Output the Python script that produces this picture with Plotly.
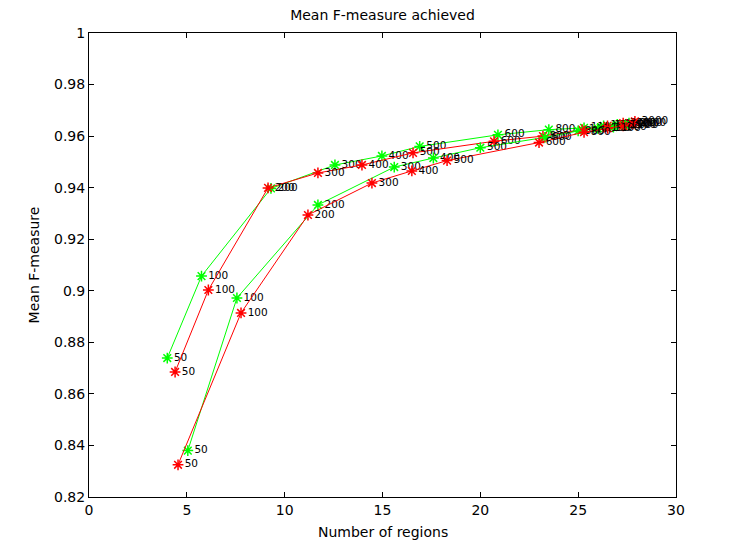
import plotly.graph_objects as go

# Upper green series
g1_x = [4.0, 5.75, 9.3, 12.57, 14.97, 16.9, 20.9, 23.5, 25.3, 26.3, 27.0, 27.6]
g1_y = [0.8739, 0.9057, 0.9397, 0.9488, 0.9523, 0.9560, 0.9605, 0.9625, 0.9632, 0.9640, 0.9645, 0.9650]
g1_lbl = ["50", "100", "200", "300", "400", "500", "600", "800", "1100", "1500", "2000", "3000"]

# Upper red series
r1_x = [4.4, 6.1, 9.15, 11.7, 13.95, 16.56, 20.7, 23.2, 25.2, 26.5, 27.3, 27.9]
r1_y = [0.8685, 0.9003, 0.9399, 0.9457, 0.9488, 0.9535, 0.9580, 0.9600, 0.9625, 0.9640, 0.9650, 0.9657]
r1_lbl = ["50", "100", "200", "300", "400", "500", "600", "800", "1100", "1500", "2000", "3000"]

# Lower green series
g2_x = [5.05, 7.56, 11.7, 15.6, 17.6, 20.0, 23.3, 25.0, 26.0, 26.8, 27.4]
g2_y = [0.8380, 0.8972, 0.9333, 0.9480, 0.9515, 0.9555, 0.9595, 0.9620, 0.9630, 0.9635, 0.9642]
g2_lbl = ["50", "100", "200", "300", "400", "500", "600", "800", "1100", "1500", "2000"]

# Lower red series
r2_x = [4.55, 7.77, 11.19, 14.46, 16.5, 18.3, 23.0, 25.3, 26.5, 27.3, 27.8]
r2_y = [0.8325, 0.8914, 0.9294, 0.9418, 0.9465, 0.9505, 0.9575, 0.9615, 0.9630, 0.9640, 0.9648]
r2_lbl = ["50", "100", "200", "300", "400", "500", "600", "800", "1100", "1500", "2000"]

GREEN = "#00ff00"
RED = "#ff0000"
FONT = "DejaVu Sans"

fig = go.Figure()
for xs, ys, lbl, col in [(g1_x, g1_y, g1_lbl, GREEN), (r1_x, r1_y, r1_lbl, RED),
                         (g2_x, g2_y, g2_lbl, GREEN), (r2_x, r2_y, r2_lbl, RED)]:
    fig.add_trace(go.Scatter(
        x=xs, y=ys, mode="lines+markers+text", text=lbl,
        textposition="middle right",
        textfont=dict(family=FONT, size=10.5, color="black"),
        line=dict(color=col, width=1),
        marker=dict(symbol="asterisk-open", size=9, color=col, line=dict(color=col, width=1.5)),
        cliponaxis=False, showlegend=False,
    ))

axis_common = dict(
    showline=True, linecolor="black", linewidth=1, mirror="ticks",
    ticks="inside", ticklen=5, tickcolor="black", showgrid=False, zeroline=False,
    tickfont=dict(family=FONT, size=14, color="black"),
)

# page body has an 8px margin, so the figure is offset by 8px
fig.update_layout(
    width=741, height=535,
    margin=dict(l=81, r=73, t=25, b=46, autoexpand=False),
    paper_bgcolor="white", plot_bgcolor="white",
    title=dict(text="Mean F-measure achieved", x=(81 + 668) / 2 / 741, xanchor="center",
               y=1 - 7 / 535, yanchor="middle",
               font=dict(family=FONT, size=14, color="black")),
    xaxis=dict(range=[0, 30], tickvals=[0, 5, 10, 15, 20, 25, 30], automargin=False,
               **axis_common),
    yaxis=dict(range=[0.82, 1.0], tickvals=[0.82, 0.84, 0.86, 0.88, 0.9, 0.92, 0.94, 0.96, 0.98, 1.0],
               ticktext=["0.82", "0.84", "0.86", "0.88", "0.9", "0.92", "0.94", "0.96", "0.98", "1"],
               automargin=False,
               title=dict(text="Mean F-measure", standoff=11,
                          font=dict(family=FONT, size=14, color="black")),
               **axis_common),
    annotations=[dict(text="Number of regions", xref="paper", yref="paper", x=0.5, y=0,
                      xanchor="center", yanchor="middle", yshift=-35, showarrow=False,
                      font=dict(family=FONT, size=14, color="black"))],
)

fig.write_html("out.html")
